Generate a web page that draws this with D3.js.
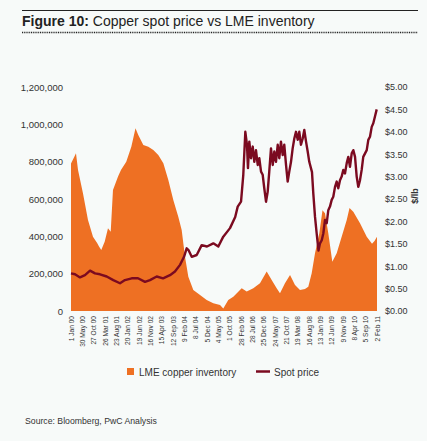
<!DOCTYPE html>
<html><head><meta charset="utf-8">
<script src="https://cdn.jsdelivr.net/npm/d3@7"></script>
<style>
html,body{margin:0;padding:0;background:#f7faf9;}
svg{display:block;font-family:"Liberation Sans",Arial,sans-serif;}
</style></head>
<body><svg id="c" width="427" height="441"></svg>
<script>
// ---- data ----
const inventoryDates = ["2000-01-01","2000-02-19","2000-03-07","2000-04-03","2000-06-08","2000-08-13","2000-10-18","2000-12-14","2001-01-06","2001-02-05","2001-02-28","2001-03-22","2001-05-05","2001-06-10","2001-07-10","2001-09-15","2001-10-24","2002-01-02","2002-03-10","2002-04-24","2002-05-04","2002-06-10","2002-08-16","2002-10-21","2002-12-26","2003-03-02","2003-05-08","2003-07-13","2003-09-17","2003-11-22","2004-01-06","2004-02-19","2004-04-03","2004-06-08","2004-09-05","2004-12-02","2005-02-28","2005-05-28","2005-07-10","2005-09-14","2005-11-20","2006-03-11","2006-05-16","2006-08-12","2006-11-08","2007-02-05","2007-04-12","2007-06-17","2007-07-31","2007-10-05","2007-12-11","2008-02-15","2008-04-21","2008-06-26","2008-08-09","2008-09-23","2008-11-06","2009-01-02","2009-02-13","2009-03-18","2009-05-01","2009-06-23","2009-08-20","2009-10-25","2009-12-31","2010-02-06","2010-03-28","2010-06-25","2010-09-22","2010-12-01","2011-01-03","2011-02-05"];
const inventoryTonnes = [790000,830000,845000,755000,630000,488000,398000,363000,345000,327000,350000,371000,443000,425000,648000,720000,755000,800000,880000,960000,979000,943000,889000,880000,862000,836000,791000,702000,595000,505000,434000,291000,184000,113000,86000,59000,41000,32000,14000,59000,77000,122000,104000,122000,148000,211000,166000,122000,95000,148000,193000,139000,113000,118000,130000,202000,309000,416000,540000,523000,416000,264000,309000,398000,488000,552000,532000,470000,398000,360000,375000,398000];

const priceDates = ["2000-01-01","2000-02-23","2000-04-29","2000-07-04","2000-09-09","2000-11-14","2001-01-19","2001-04-18","2001-07-14","2001-10-11","2001-12-16","2002-03-15","2002-06-06","2002-09-07","2002-11-12","2003-02-09","2003-05-04","2003-08-04","2003-10-09","2003-12-15","2004-02-06","2004-03-12","2004-04-05","2004-05-18","2004-07-23","2004-09-27","2004-12-06","2005-02-28","2005-05-05","2005-07-10","2005-10-07","2005-12-15",
 "2006-01-17","2006-03-02","2006-04-01","2006-04-28","2006-05-20","2006-06-02","2006-06-20","2006-07-12","2006-08-04","2006-08-25","2006-09-16","2006-10-09","2006-10-30","2006-11-22","2006-12-14","2007-01-04","2007-01-27","2007-02-18","2007-03-11","2007-04-03","2007-04-26","2007-05-17","2007-06-08","2007-07-01","2007-07-22","2007-08-13","2007-09-05","2007-09-26","2007-10-19","2007-11-10","2007-12-01","2007-12-24","2008-01-15","2008-02-06","2008-02-28","2008-03-22","2008-04-12","2008-05-04","2008-05-27","2008-06-17","2008-07-10","2008-08-01","2008-08-22","2008-09-27","2008-10-14","2008-11-06","2008-11-28","2008-12-22",
 "2009-01-11","2009-02-03","2009-02-24","2009-03-18","2009-04-10","2009-05-01","2009-05-23","2009-06-15","2009-07-06","2009-07-29","2009-08-20","2009-09-10","2009-10-03","2009-10-25","2009-11-16","2009-12-08","2009-12-31","2010-01-21","2010-02-12","2010-03-07","2010-03-28","2010-04-20","2010-05-12","2010-06-02","2010-06-25","2010-07-17","2010-08-07","2010-09-22","2010-10-13","2010-11-04","2010-11-27","2010-12-18","2011-01-09","2011-02-01"];
const priceUsdPerLb = [0.84,0.82,0.75,0.80,0.90,0.84,0.82,0.77,0.69,0.62,0.69,0.73,0.73,0.65,0.69,0.77,0.73,0.80,0.88,1.03,1.21,1.40,1.36,1.21,1.25,1.47,1.44,1.51,1.44,1.66,1.85,2.10,
 2.33,2.44,3.04,4.00,3.71,3.19,3.78,3.41,3.67,3.33,3.59,3.26,3.41,3.11,3.04,2.74,2.44,2.66,3.11,3.63,3.26,3.56,3.33,3.71,3.41,3.78,3.48,3.71,3.26,2.89,3.11,3.33,3.63,3.85,4.00,3.82,4.00,3.71,3.85,4.04,3.78,3.56,3.33,3.10,2.63,2.10,1.73,1.35,
 1.51,1.58,1.73,2.03,1.96,2.25,2.33,2.48,2.55,2.77,2.89,2.74,2.92,3.00,3.15,3.07,3.30,3.44,3.22,3.52,3.59,3.44,3.00,2.77,2.92,3.15,3.44,3.59,3.82,3.89,4.11,4.19,4.34,4.50];

const xTickLabels = ["1 Jan 00","30 May 00","27 Oct 00","26 Mar 01","23 Aug 01","20 Jan 02","19 Jun 02","16 Nov 02","15 Apr 03","12 Sep 03","9 Feb 04","8 Jul 04","5 Dec 04","4 May 05","1 Oct 05","28 Feb 06","28 Jul 06","25 Dec 06","24 May 07","21 Oct 07","19 Mar 08","16 Aug 08","13 Jan 09","12 Jun 09","9 Nov 09","8 Apr 10","5 Sep 10","2 Feb 11"];
const leftTicks = [0,200000,400000,600000,800000,1000000,1200000];
const rightTicks = [0,0.5,1,1.5,2,2.5,3,3.5,4,4.5,5];

// ---- chart ----
const ORANGE = "#ee7023", MAROON = "#7b0a20", TEXT = "#333";
const parseISO = d3.timeParse("%Y-%m-%d");
const parseTick = d3.timeParse("%d %b %y");
const svg = d3.select("#c");

const x = d3.scaleTime().domain([parseISO("2000-01-01"), parseISO("2011-02-05")]).range([71, 377]);
const yL = d3.scaleLinear().domain([0, 1200000]).range([311, 87]);
const yR = d3.scaleLinear().domain([0, 5]).range([311, 87]);

// Title
svg.append("line").attr("x1",22).attr("x2",418).attr("y1",10.5).attr("y2",10.5).attr("stroke","#222").attr("stroke-width",1);
const title = svg.append("text").attr("x",22).attr("y",26).attr("font-size",14).attr("fill","#222");
title.append("tspan").attr("font-weight","bold").text("Figure 10:");
title.append("tspan").text(" Copper spot price vs LME inventory");
svg.append("line").attr("x1",22).attr("x2",418).attr("y1",32.5).attr("y2",32.5)
  .attr("stroke","#222").attr("stroke-width",1.6).attr("stroke-dasharray","1,0.8");

// Inventory area
const inv = inventoryDates.map((d,i)=>({date:parseISO(d), v:inventoryTonnes[i]}));
svg.append("path").datum(inv)
  .attr("fill", ORANGE)
  .attr("d", d3.area().x(d=>x(d.date)).y0(yL(0)).y1(d=>yL(d.v)));

// Spot price line
const pr = priceDates.map((d,i)=>({date:parseISO(d), v:priceUsdPerLb[i]}));
svg.append("path").datum(pr)
  .attr("fill","none").attr("stroke",MAROON).attr("stroke-width",2.4).attr("stroke-linejoin","round")
  .attr("d", d3.line().x(d=>x(d.date)).y(d=>yR(d.v)));

// Left axis
const axL = svg.append("g").attr("transform","translate(63,0)")
  .call(d3.axisLeft(yL).tickValues(leftTicks).tickSize(0).tickPadding(0).tickFormat(d3.format(",")));
axL.select(".domain").remove();
axL.selectAll("text").attr("font-size",9.5).attr("fill",TEXT).attr("font-family","Liberation Sans, Arial, sans-serif");

// Right axis
const axR = svg.append("g").attr("transform","translate(385,0)")
  .call(d3.axisRight(yR).tickValues(rightTicks).tickSize(0).tickPadding(0).tickFormat(d=>"$"+d3.format(".2f")(d)));
axR.select(".domain").remove();
axR.selectAll("text").attr("font-size",9).attr("fill",TEXT).attr("font-family","Liberation Sans, Arial, sans-serif");

svg.append("text").attr("transform","translate(418,196) rotate(-90)")
  .attr("text-anchor","middle").attr("font-size",9).attr("font-weight","bold").attr("fill",TEXT).text("$/lb");

// Bottom axis (rotated labels)
const axB = svg.append("g").attr("transform","translate(0,316)")
  .call(d3.axisBottom(x).tickValues(xTickLabels.map(parseTick)).tickSize(0).tickPadding(0)
    .tickFormat((d,i)=>xTickLabels[i]));
axB.select(".domain").remove();
axB.selectAll("text").attr("font-size",6.6).attr("fill",TEXT)
  .attr("font-family","Liberation Sans, Arial, sans-serif")
  .attr("text-anchor","end").attr("transform","rotate(-90)").attr("x",0).attr("y",0).attr("dy","0.35em");

// Legend
const lg = svg.append("g");
lg.append("rect").attr("x",127).attr("y",368).attr("width",7).attr("height",7).attr("fill",ORANGE);
lg.append("text").attr("x",139).attr("y",375.5).attr("font-size",10).attr("fill",TEXT).text("LME copper inventory");
lg.append("line").attr("x1",256).attr("x2",270).attr("y1",371.5).attr("y2",371.5).attr("stroke",MAROON).attr("stroke-width",2.5);
lg.append("text").attr("x",274).attr("y",375.5).attr("font-size",10).attr("fill",TEXT).text("Spot price");

// Source
svg.append("text").attr("x",25).attr("y",424).attr("font-size",8.7).attr("fill",TEXT).text("Source: Bloomberg, PwC Analysis");
</script></body></html>
